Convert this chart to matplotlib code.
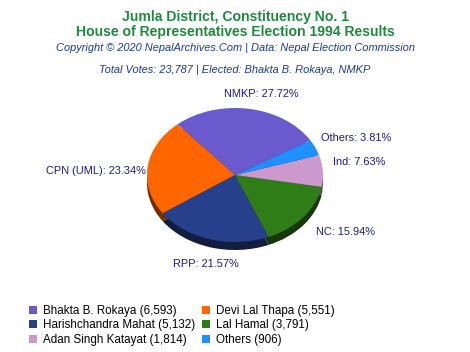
import numpy as np
import matplotlib
matplotlib.use("Agg")
import matplotlib.pyplot as plt
from matplotlib.colors import to_rgb
from matplotlib.patches import Patch

plt.rcParams['font.family'] = ['Liberation Sans', 'DejaVu Sans']

parties = ["NMKP", "CPN (UML)", "RPP", "NC", "Ind", "Others"]
candidates = ["Bhakta B. Rokaya", "Devi Lal Thapa", "Harishchandra Mahat",
              "Lal Hamal", "Adan Singh Katayat", "Others"]
votes = [6593, 5551, 5132, 3791, 1814, 906]
percents = ["27.72%", "23.34%", "21.57%", "15.94%", "7.63%", "3.81%"]
colors = ["#6a5acd", "#ff6600", "#27408b", "#2e7d17", "#cc99cc", "#1e90ff"]

W, H = 470, 352
fig = plt.figure(figsize=(W / 100, H / 100), dpi=100)

# header texts
green = "#1f8a3c"
blue = "#1a3a9a"
fig.text(0.5, 1 - 17 / H, "Jumla District, Constituency No. 1", ha="center", va="center",
         fontsize=10.1, fontweight="bold", color=green)
fig.text(0.5, 1 - 32 / H, "House of Representatives Election 1994 Results", ha="center", va="center",
         fontsize=10.1, fontweight="bold", color=green)
fig.text(0.5, 1 - 48 / H, "Copyright © 2020 NepalArchives.Com | Data: Nepal Election Commission",
         ha="center", va="center", fontsize=7.9, style="italic", color=blue)
fig.text(0.5, 1 - 70 / H, "Total Votes: 23,787 | Elected: Bhakta B. Rokaya, NMKP",
         ha="center", va="center", fontsize=7.9, style="italic", color=blue)

# pie axes (ellipse)
cx, cy, rx, ry = 235, 175, 88, 67
ax = fig.add_axes([(cx - rx) / W, (H - cy - ry) / H, 2 * rx / W, 2 * ry / H])
ax.axis("off")
start = 31
depth = 8 / ry
dark = [tuple(c * 0.45 for c in to_rgb(col)) for col in colors]
ax.pie(votes, colors=dark, startangle=start, counterclock=True,
       center=(0, -depth), radius=1, wedgeprops=dict(linewidth=0))
wedges, _ = ax.pie(votes, colors=colors, startangle=start, counterclock=True,
                   center=(0, 0), radius=1, wedgeprops=dict(linewidth=0))
ax.set_aspect("auto")
ax.set_xlim(-1, 1)
ax.set_ylim(-1, 1)
for p in ax.patches:
    p.set_clip_on(False)

label_color = "#1a1a8c"
# (x offset px, y offset px, ha)
label_style = {
    "NMKP": (12, 15, "center"),
    "CPN (UML)": (-2, -4, "right"),
    "RPP": (-4, -25, "center"),
    "NC": (12, -15, "left"),
    "Ind": (10, 9, "left"),
    "Others": (6, 10, "left"),
}
for w, party, pct in zip(wedges, parties, percents):
    mid = np.deg2rad((w.theta1 + w.theta2) / 2)
    dx, dy, ha = label_style[party]
    ax.annotate(f"{party}: {pct}", xy=(np.cos(mid), np.sin(mid)),
                xytext=(dx * 0.72, dy * 0.72), textcoords="offset points",
                ha=ha, va="center", fontsize=7.9, color=label_color,
                annotation_clip=False)

# legend
handles = [Patch(facecolor=c, edgecolor="none") for c in colors]
labels = [f"{n} ({v:,})" for n, v in zip(candidates, votes)]
order = [0, 2, 4, 1, 3, 5]
fig.legend([handles[i] for i in order], [labels[i] for i in order], ncol=2,
           loc="upper left", bbox_to_anchor=(29 / W, 1 - 305 / H), frameon=False,
           fontsize=8.4, handlelength=0.7, handleheight=0.7, handletextpad=0.5,
           columnspacing=0.55, labelspacing=0.2, borderpad=0, borderaxespad=0)

fig.savefig("out.png", dpi=100)
